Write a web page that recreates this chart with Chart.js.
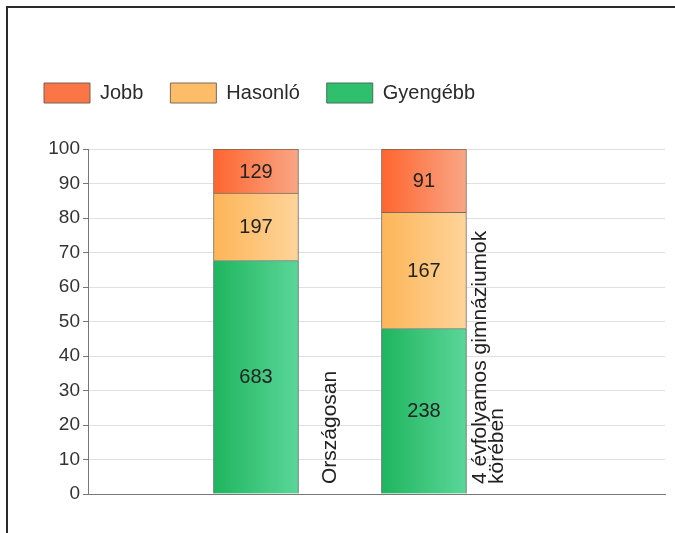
<!DOCTYPE html>
<html>
<head>
<meta charset="utf-8">
<script src="https://cdn.jsdelivr.net/npm/chart.js@4.4.0/dist/chart.umd.min.js"></script>
<style>
  body { margin: 0; background: #fff; }
  .frame { position: absolute; left: 6px; top: 6px; width: 720px; height: 580px;
           border-left: 2px solid #2b2b2b; border-top: 2px solid #2b2b2b; }
  #chart { position: absolute; left: 0; top: 0; }
</style>
</head>
<body>
<div class="frame"></div>
<canvas id="chart" width="675" height="533"></canvas>
<script>
// adatok
const categories = ['Országosan', ['4 évfolyamos gimnáziumok', 'körében']];
const xPositions = [1, 2];
const jobb = [129, 91];
const hasonlo = [197, 167];
const gyengebb = [683, 238];

const totals = categories.map((c, i) => jobb[i] + hasonlo[i] + gyengebb[i]);
function toPercent(arr) {
    return arr.map((v, i) => ({ x: xPositions[i], y: v / totals[i] * 100 }));
}

const font = '"Liberation Sans", Arial, sans-serif';
// legend dobozok szine (sorrend: gyengebb, hasonlo, jobb)
const legendColors = ['#2fc06e', '#fdbd68', '#fb7646'];

// vizszintes szinatmenet minden oszlopon
function barGradient(left, right) {
    return function (ctx) {
        const chart = ctx.chart;
        if (!chart.chartArea || ctx.dataIndex === undefined) return left;
        const x = chart.scales.x.getPixelForValue(xPositions[ctx.dataIndex]);
        const g = chart.ctx.createLinearGradient(x - 42, 0, x + 42, 0);
        g.addColorStop(0, left);
        g.addColorStop(1, right);
        return g;
    };
}

// legend magassag, hogy a rajzterulet 149-nel kezdodjon
const legendSpace = {
    id: 'legendSpace',
    beforeInit(chart) {
        const fit = chart.legend.fit;
        chart.legend.fit = function () {
            fit.call(this);
            this.height = 93;
        };
    }
};

// szamok az oszlopokon + elforgatott kategoria feliratok
const labelGap = [32, 23];
const barLabels = {
    id: 'barLabels',
    afterDatasetsDraw(chart) {
        const c = chart.ctx;
        c.save();
        c.font = '20px ' + font;
        c.fillStyle = '#222';
        c.textAlign = 'center';
        c.textBaseline = 'middle';
        chart.data.datasets.forEach((ds, d) => {
            chart.getDatasetMeta(d).data.forEach((bar, i) => {
                c.fillText(ds.counts[i], bar.x, (bar.y + bar.base) / 2 + 1);
            });
        });

        const yBase = chart.scales.y.getPixelForValue(0) - 10;
        c.font = '21px ' + font;
        c.textAlign = 'left';
        categories.forEach((cat, i) => {
            const lines = [].concat(cat);
            const right = chart.scales.x.getPixelForValue(xPositions[i]) + 42;
            const center = right + labelGap[i];
            lines.forEach((line, k) => {
                c.save();
                c.translate(center + (k - (lines.length - 1) / 2) * 17, yBase);
                c.rotate(-Math.PI / 2);
                c.fillText(line, 0, 0);
                c.restore();
            });
        });
        c.restore();
    }
};

new Chart(document.getElementById('chart'), {
    type: 'bar',
    data: {
        datasets: [{
            label: 'Gyengébb',
            counts: gyengebb,
            data: toPercent(gyengebb),
            backgroundColor: barGradient('#1fb55e', '#5bd699'),
            borderColor: '#4d6b58',
            borderWidth: 1
        }, {
            label: 'Hasonló',
            counts: hasonlo,
            data: toPercent(hasonlo),
            backgroundColor: barGradient('#fdb558', '#fed49a'),
            borderColor: '#7a6a5c',
            borderWidth: 1
        }, {
            label: 'Jobb',
            counts: jobb,
            data: toPercent(jobb),
            backgroundColor: barGradient('#ff6530', '#f9a685'),
            borderColor: '#7a5f52',
            borderWidth: 1
        }]
    },
    options: {
        responsive: false,
        animation: false,
        barThickness: 85,
        layout: { padding: { left: 17, top: 56, right: 10, bottom: 39 } },
        plugins: {
            legend: {
                align: 'start',
                reverse: true,
                labels: {
                    boxWidth: 46,
                    boxHeight: 20,
                    padding: 27,
                    color: '#2a2a2a',
                    font: { size: 20, family: font },
                    generateLabels(chart) {
                        const items = Chart.defaults.plugins.legend.labels.generateLabels(chart);
                        items.forEach(it => { it.fillStyle = legendColors[it.datasetIndex]; });
                        return items;
                    }
                }
            },
            tooltip: { enabled: false }
        },
        scales: {
            x: {
                type: 'linear',
                stacked: true,
                offset: false,
                min: 0,
                max: 3.435,
                ticks: { display: false },
                grid: { display: false },
                border: { color: '#777', width: 1 },
                afterFit(scale) { scale.height = 0; }
            },
            y: {
                stacked: true,
                min: 0,
                max: 100,
                ticks: { stepSize: 10, padding: 3, color: '#333', font: { size: 19, family: font } },
                grid: { color: '#e0e0e0', tickColor: '#777', tickLength: 5 },
                border: { color: '#777', width: 1 },
                afterFit(scale) { scale.width = 71; }
            }
        }
    },
    plugins: [legendSpace, barLabels]
});
</script>
</body>
</html>
